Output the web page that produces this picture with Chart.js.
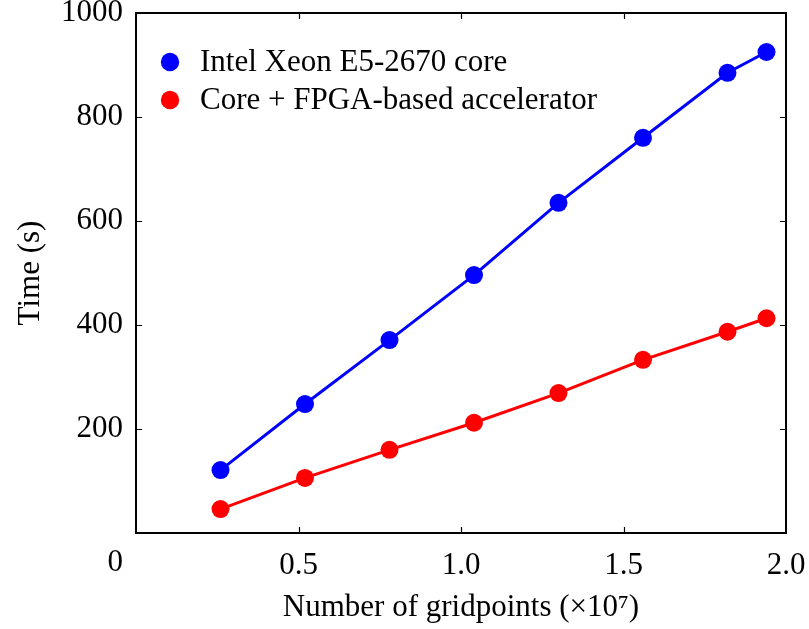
<!DOCTYPE html>
<html>
<head>
<meta charset="utf-8">
<script src="https://cdn.jsdelivr.net/npm/chart.js@4/dist/chart.umd.min.js"></script>
<style>
html,body{margin:0;padding:0;background:#fff;}
#wrap{width:809px;height:629px;}
</style>
</head>
<body>
<div id="wrap"><canvas id="c" width="809" height="629"></canvas></div>
<script>
const gridpoints = [0.26, 0.52, 0.78, 1.04, 1.30, 1.56, 1.82, 1.94];
const xeonTime = [121, 248, 371, 496, 635, 760, 885, 925];
const fpgaTime = [46, 106, 160, 212, 269, 333, 387, 413];
const seriesLabels = ['Intel Xeon E5-2670 core', 'Core + FPGA-based accelerator'];
const xTicks = [0.5, 1.0, 1.5, 2.0];
const yTicks = [200, 400, 600, 800, 1000];
const xTitle = 'Number of gridpoints (×10⁷)';
const yTitle = 'Time (s)';

const FONT = 'Liberation Serif';
const FS = 31;

const frame = {
  id: 'frame',
  afterDraw(chart) {
    const {ctx, chartArea: a, scales: {x, y}} = chart;
    ctx.save();
    ctx.strokeStyle = '#000';
    ctx.lineWidth = 2;
    ctx.strokeRect(a.left, a.top, a.right - a.left, a.bottom - a.top);
    ctx.lineWidth = 1.2;
    const tl = 6;
    xTicks.forEach(v => {
      if (v <= 0 || v >= 2) return;
      const px = Math.round(x.getPixelForValue(v)) + 0.5;
      ctx.beginPath();
      ctx.moveTo(px, a.bottom); ctx.lineTo(px, a.bottom - tl);
      ctx.moveTo(px, a.top); ctx.lineTo(px, a.top + tl);
      ctx.stroke();
    });
    yTicks.forEach(v => {
      if (v <= 0 || v >= 1000) return;
      const py = Math.round(y.getPixelForValue(v)) + 0.5;
      ctx.beginPath();
      ctx.moveTo(a.left, py); ctx.lineTo(a.left + tl, py);
      ctx.moveTo(a.right, py); ctx.lineTo(a.right - tl, py);
      ctx.stroke();
    });
    // origin label "0"
    ctx.fillStyle = '#000';
    ctx.font = FS + 'px "' + FONT + '"';
    ctx.textAlign = 'right';
    ctx.textBaseline = 'middle';
    ctx.fillText('0', a.left - 13, a.bottom + 30);
    // legend
    const items = chart.data.datasets;
    items.forEach((ds, i) => {
      const cy = a.top + 49 + i * 38;
      const cx = a.left + 34;
      ctx.beginPath();
      ctx.fillStyle = ds.backgroundColor;
      ctx.arc(cx, cy, 9.2, 0, Math.PI * 2);
      ctx.fill();
      ctx.fillStyle = '#000';
      ctx.textAlign = 'left';
      ctx.fillText(ds.label, a.left + 64, cy + 1);
    });
    ctx.restore();
  }
};

new Chart(document.getElementById('c'), {
  type: 'line',
  data: {
    datasets: [
      {
        label: seriesLabels[0],
        data: gridpoints.map((g, i) => ({x: g, y: xeonTime[i]})),
        borderColor: '#0000ff',
        backgroundColor: '#0000ff',
        borderWidth: 3,
        pointRadius: 9,
        pointBorderWidth: 0,
        pointHoverRadius: 9
      },
      {
        label: seriesLabels[1],
        data: gridpoints.map((g, i) => ({x: g, y: fpgaTime[i]})),
        borderColor: '#ff0000',
        backgroundColor: '#ff0000',
        borderWidth: 3,
        pointRadius: 9,
        pointBorderWidth: 0,
        pointHoverRadius: 9
      }
    ]
  },
  options: {
    responsive: false,
    animation: false,
    layout: {padding: {left: 0, top: 13, right: 23, bottom: 0}},
    plugins: {legend: {display: false}, tooltip: {enabled: false}},
    scales: {
      x: {
        type: 'linear',
        min: 0, max: 2,
        afterFit(s) { s.height = 96; s.paddingLeft = 0; s.paddingRight = 0; },
        afterBuildTicks(s) { s.ticks = xTicks.map(v => ({value: v})); },
        grid: {display: false, drawTicks: false},
        border: {display: false},
        ticks: {
          color: '#000',
          font: {family: FONT, size: FS},
          padding: 14,
          maxRotation: 0,
          autoSkip: false,
          callback: v => v.toFixed(1)
        },
        title: {display: true, text: xTitle, color: '#000', font: {family: FONT, size: FS}, padding: {top: 0, bottom: 3}}
      },
      y: {
        type: 'linear',
        min: 0, max: 1000,
        afterFit(s) { s.width = 136; s.paddingTop = 0; s.paddingBottom = 0; },
        afterBuildTicks(s) { s.ticks = yTicks.map(v => ({value: v})); },
        grid: {display: false, drawTicks: false},
        border: {display: false},
        ticks: {
          color: '#000',
          font: {family: FONT, size: FS},
          padding: 13,
          autoSkip: false,
          callback: v => String(v)
        },
        title: {display: true, text: yTitle, color: '#000', font: {family: FONT, size: FS}, padding: {top: 12, bottom: 0}}
      }
    }
  },
  plugins: [frame]
});
</script>
</body>
</html>
